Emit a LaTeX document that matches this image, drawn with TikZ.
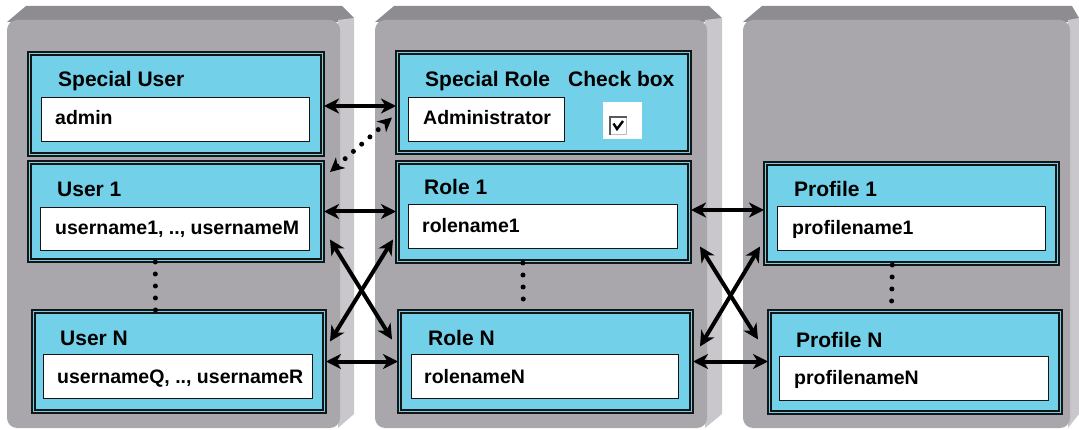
\documentclass[tikz,border=0pt]{standalone}
\usepackage{fontspec}
\setmainfont{Liberation Sans}
\usetikzlibrary{arrows.meta,calc}
\definecolor{pfront}{HTML}{A9A7AB}
\definecolor{ptop}{HTML}{8E8C90}
\definecolor{pside}{HTML}{C9C7CB}
\definecolor{boxblue}{HTML}{72D0E8}
\definecolor{edge}{HTML}{151515}
\tikzset{
  bbox/.style={draw=edge, double=boxblue, double distance=1.6pt, line width=1.4pt,
    fill=boxblue, anchor=north west, inner sep=0pt, outer sep=1.5pt},
  wbox/.style={draw=edge, line width=1.3pt, fill=white, anchor=north west, inner sep=0pt},
  ttl/.style={anchor=base west, inner sep=0pt, font=\fontsize{21}{25}\selectfont\bfseries},
  body/.style={anchor=base west, inner sep=0pt, font=\fontsize{19.5}{23}\selectfont\bfseries},
  biarrow/.style={line width=4pt, {Stealth[length=15pt,width=15pt,inset=4.5pt]}-{Stealth[length=15pt,width=15pt,inset=4.5pt]}},
  dotarrow/.style={line width=5pt, line cap=round, dash pattern=on 0pt off 11pt,
    {Stealth[length=14pt,width=14pt,inset=4pt]}-{Stealth[length=14pt,width=14pt,inset=4pt]}},
  vdots/.style={line width=5pt, line cap=round, dash pattern=on 0pt off 12pt}
}
\begin{document}
\begin{tikzpicture}[x=1pt,y=-1pt]
\useasboundingbox (0,0) rectangle (1079,430);
% panels
\foreach \l/\r/\s in {7/340/354, 375/707/722, 743/1070/1079} {
  \fill[ptop] (\l,22) -- (\l+19,6) -- (\r+2,6) -- (\s,18) -- (\r,22) -- cycle;
  \fill[pside] (\r-2,20) -- (\s,18) -- (\s,414) -- (\r-2,428) -- cycle;
  \fill[pfront, rounded corners=10pt] (\l,20) rectangle (\r,428);
}
% blue boxes
\node[bbox, minimum width=293pt, minimum height=101pt] (su) at (28,52) {};
\node[bbox, minimum width=292pt, minimum height=100pt] (sr) at (396,51) {};
\node[bbox, minimum width=293pt, minimum height=98pt] (u1) at (28,161) {};
\node[bbox, minimum width=292pt, minimum height=99pt] (r1) at (396,161) {};
\node[bbox, minimum width=292pt, minimum height=100pt] (p1) at (764,162) {};
\node[bbox, minimum width=291pt, minimum height=100pt] (un) at (32,310) {};
\node[bbox, minimum width=292pt, minimum height=100pt] (rn) at (398,310) {};
\node[bbox, minimum width=291pt, minimum height=101pt] (pn) at (768,310) {};
% white boxes
\node[wbox, minimum width=268pt, minimum height=44pt] (suw) at (41,97) {};
\node[wbox, minimum width=156pt, minimum height=44pt] (srw) at (408,97) {};
\node[anchor=north west, fill=white, inner sep=0pt, minimum width=39pt, minimum height=37pt] (chk) at (603,102) {};
\node[wbox, minimum width=269pt, minimum height=43pt] (u1w) at (40,207) {};
\node[wbox, minimum width=269pt, minimum height=44pt] (r1w) at (408,204) {};
\node[wbox, minimum width=268pt, minimum height=44pt] (p1w) at (777,206) {};
\node[wbox, minimum width=269pt, minimum height=44pt] (unw) at (43,354) {};
\node[wbox, minimum width=267pt, minimum height=44pt] (rnw) at (411,354) {};
\node[wbox, minimum width=269pt, minimum height=44pt] (pnw) at (779,356) {};
% check box glyph
\node[anchor=north west, fill=white, draw=black!25, line width=1pt, inner sep=0pt, minimum width=16pt, minimum height=17pt] (cb) at (610,117) {};
\draw[black!65, line width=1.6pt] (cb.south west) -- (cb.north west) -- (cb.north east);
\draw[black, line width=2.4pt] (613.5,123.5) -- (617,129) -- (623,121);
% titles
\node[ttl] (sut) at (58,87) {Special User};
\node[ttl] (srt) at (425,87) {Special Role};
\node[ttl] (cbt) at (568,87) {Check box};
\node[ttl] (u1t) at (57,197) {User 1};
\node[ttl] (r1t) at (424,195) {Role 1};
\node[ttl] (p1t) at (794,197) {Profile 1};
\node[ttl] (unt) at (60,345) {User N};
\node[ttl] (rnt) at (428,345) {Role N};
\node[ttl] (pnt) at (796,347) {Profile N};
% body texts
\node[body] (sub) at (55,125) {admin};
\node[body] (srb) at (423,125) {Administrator};
\node[body] (u1b) at (55,235) {username1, .., usernameM};
\node[body] (r1b) at (422,233) {rolename1};
\node[body] (p1b) at (792,235) {profilename1};
\node[body] (unb) at (57,383) {usernameQ, .., usernameR};
\node[body] (rnb) at (424,383) {rolenameN};
\node[body] (pnb) at (794,384) {profilenameN};
% vertical dots
\draw[vdots] ($(u1.south west)!0.43!(u1.south east)$) -- ($(un.north west)!0.42!(un.north east)$);
\draw[vdots] ($(r1.south west)!0.43!(r1.south east)$) -- ($(rn.north west)!0.425!(rn.north east)$);
\draw[vdots] ($(p1.south west)!0.435!(p1.south east)$) -- ($(pn.north west)!0.42!(pn.north east)$);
% horizontal arrows
\draw[biarrow] ($(su.east)+(0,2)$) -- ($(su.east -| sr.west)+(0,2)$);
\draw[biarrow] (u1.east) -- (u1.east -| r1.west);
\draw[biarrow] ($(r1.east)+(0,-2)$) -- ($(r1.east -| p1.west)+(0,-2)$);
\draw[biarrow] (un.east) -- (un.east -| rn.west);
\draw[biarrow] (rn.east) -- (rn.east -| pn.west);
% dotted arrow
\draw[dotarrow] ($(u1.north east)+(6,11)$) -- ($(sr.west)+(-4,15)$);
% crossing arrows
\draw[biarrow] ($(u1.east)+(6,28)$) -- ($(rn.west)+(-6,-22)$);
\draw[biarrow] ($(un.east)+(4,-20)$) -- ($(r1.west)+(-3,27.5)$);
\draw[biarrow] ($(r1.east)+(9,34.5)$) -- ($(pn.west)+(-10,-22.5)$);
\draw[biarrow] ($(rn.east)+(7,-15)$) -- ($(p1.west)+(-4,33)$);
\end{tikzpicture}
\end{document}
